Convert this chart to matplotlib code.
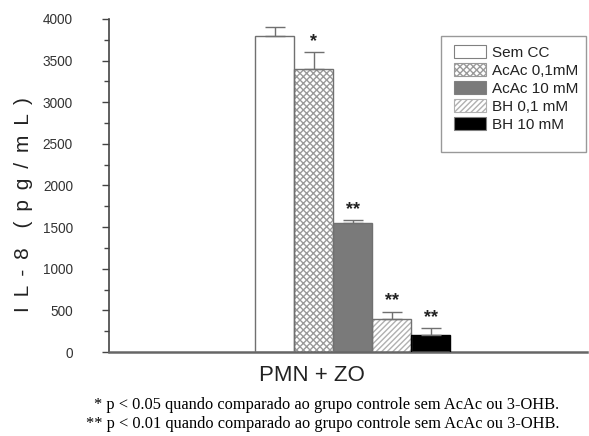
import matplotlib
matplotlib.use("Agg")
import matplotlib.pyplot as plt
from matplotlib.ticker import MultipleLocator
from matplotlib.patches import Patch, Rectangle
import numpy as np

# dados
grupos = ['Sem CC', 'AcAc 0,1mM', 'AcAc 10 mM', 'BH 0,1 mM', 'BH 10 mM']
valores = [3800, 3400, 1550, 400, 200]
erros = [100, 200, 30, 85, 90]
sig = ['', '*', '**', '**', '**']

cores = ['white', 'white', '#7a7a7a', 'white', 'black']
hatches = [None, 'xxxxx', None, '//////', None]
hatch_cor = ['#999999', '#9a9a9a', '#7a7a7a', '#b0b0b0', 'black']

plt.rcParams['font.family'] = ['Liberation Sans', 'DejaVu Sans']

fig = plt.figure(figsize=(5.89, 4.36), dpi=100)
ax = fig.add_axes([109/589, 1-352/436, 478/589, 333/436])

x = np.arange(len(grupos))
for i in range(len(grupos)):
    # hachura primeiro, depois o contorno
    ax.bar(x[i], valores[i], width=1.0, color=cores[i], hatch=hatches[i],
           edgecolor=hatch_cor[i], linewidth=0, zorder=2)
    ax.bar(x[i], valores[i], width=1.0, fill=False,
           edgecolor='#707070' if i != 4 else 'black', linewidth=1.0, zorder=3)
    ax.errorbar(x[i], valores[i], yerr=[[0], [erros[i]]], fmt='none',
                ecolor='#707070', elinewidth=1.0, capsize=7, capthick=1.0,
                zorder=4)
    if sig[i]:
        ax.text(x[i], valores[i] + erros[i] + 25, sig[i], ha='center',
                va='bottom', fontsize=13, fontweight='bold', color='#222222')

handles = []
for i in range(len(grupos)):
    handles.append(Patch(facecolor=cores[i], hatch=hatches[i],
                         edgecolor=hatch_cor[i] if hatches[i] else '#808080',
                         linewidth=0.8, label=grupos[i]))

# caixa da legenda desenhada a parte (mais espaco embaixo)
ax.add_patch(Rectangle(((441-109)/478, (352-152)/333), (586-441)/478,
                       (152-36)/333, transform=ax.transAxes, fill=False,
                       edgecolor='#999999', linewidth=1.0, zorder=5,
                       clip_on=False))
leg = ax.legend(handles=handles, loc='upper left',
                bbox_to_anchor=((449-109)/478, 1-(40-19)/333),
                fontsize=11, handlelength=2.1, handleheight=0.98,
                labelspacing=0.2, handletextpad=0.4, borderpad=0.3,
                frameon=False, borderaxespad=0)
for t in leg.get_texts():
    t.set_color('#222222')

ax.set_xlim(-4.244, 8.013)
ax.set_ylim(0, 4000)
ax.yaxis.set_major_locator(MultipleLocator(500))
ax.yaxis.set_minor_locator(MultipleLocator(250))
ax.tick_params(axis='y', which='major', direction='out', length=5, width=1,
               color='#444444', labelsize=9.8, labelcolor='#333333', pad=21)
ax.tick_params(axis='y', which='minor', direction='out', length=3.5, width=1,
               color='#444444')
ax.set_xticks([])
for s in ['top', 'right']:
    ax.spines[s].set_visible(False)
ax.spines['left'].set_color('#444444')
ax.spines['left'].set_linewidth(1.2)
ax.spines['bottom'].set_color('#666666')
ax.spines['bottom'].set_linewidth(1.8)

fig.text(312/589, 1-375/436, 'PMN + ZO', ha='center', va='center',
         fontsize=16, color='#222222')
ylab = ' \u2009'.join('IL-8') + ' \u2009 \u2009' + ' \u2009'.join('(pg/mL)')
fig.text(24/589, 1-205/436, ylab, ha='center', va='center', rotation=90,
         fontsize=15, color='#222222')

fig.text(327/589, 1-405/436,
         '* p < 0.05 quando comparado ao grupo controle sem AcAc ou 3-OHB.',
         ha='center', va='center', fontsize=11.8, family='Liberation Serif')
fig.text(323/589, 1-424/436,
         '** p < 0.01 quando comparado ao grupo controle sem AcAc ou 3-OHB.',
         ha='center', va='center', fontsize=11.8, family='Liberation Serif')

fig.savefig('out.png', dpi=100)
